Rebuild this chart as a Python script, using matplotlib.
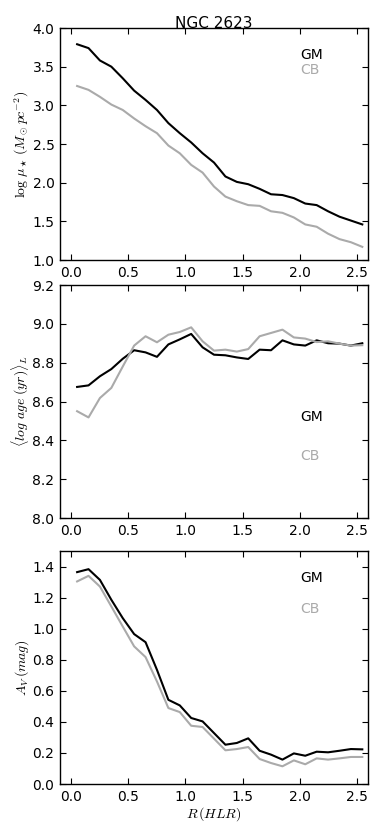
import numpy as np
import matplotlib
matplotlib.use("Agg")
import matplotlib.pyplot as plt

plt.rcParams['mathtext.fontset'] = 'cm'
plt.rcParams['font.family'] = ['DejaVu Sans']

# radial bins (HLR)
r = [0.05, 0.15, 0.25, 0.35, 0.45, 0.55, 0.65, 0.75, 0.85, 0.95, 1.05, 1.15, 1.25,
     1.35, 1.45, 1.55, 1.65, 1.75, 1.85, 1.95, 2.05, 2.15, 2.25, 2.35, 2.45, 2.55]

# log stellar mass surface density
mu_gm = [3.79, 3.74, 3.58, 3.50, 3.35, 3.19, 3.07, 2.94, 2.77, 2.64, 2.52, 2.38, 2.26,
         2.08, 2.01, 1.98, 1.92, 1.85, 1.84, 1.80, 1.73, 1.71, 1.63, 1.56, 1.51, 1.46]
mu_cb = [3.25, 3.20, 3.11, 3.01, 2.94, 2.83, 2.73, 2.64, 2.48, 2.38, 2.23, 2.13, 1.95,
         1.82, 1.76, 1.71, 1.70, 1.63, 1.61, 1.55, 1.46, 1.43, 1.34, 1.27, 1.23, 1.17]

# light weighted log age
age_gm = [8.675, 8.683, 8.73, 8.767, 8.82, 8.864, 8.853, 8.83, 8.894, 8.92, 8.948, 8.879, 8.841,
          8.838, 8.827, 8.819, 8.867, 8.864, 8.915, 8.894, 8.888, 8.915, 8.90, 8.898, 8.888, 8.90]
age_cb = [8.55, 8.518, 8.618, 8.67, 8.78, 8.888, 8.936, 8.905, 8.944, 8.958, 8.982, 8.91, 8.862,
          8.867, 8.857, 8.87, 8.936, 8.953, 8.97, 8.93, 8.924, 8.906, 8.91, 8.898, 8.888, 8.89]

# dust extinction
av_gm = [1.364, 1.383, 1.314, 1.186, 1.068, 0.965, 0.913, 0.735, 0.542, 0.506, 0.425, 0.403, 0.328,
         0.253, 0.264, 0.294, 0.214, 0.189, 0.157, 0.197, 0.182, 0.208, 0.204, 0.214, 0.225, 0.223]
av_cb = [1.304, 1.340, 1.271, 1.143, 1.014, 0.886, 0.817, 0.660, 0.489, 0.463, 0.375, 0.367, 0.292,
         0.217, 0.225, 0.238, 0.161, 0.135, 0.114, 0.152, 0.127, 0.165, 0.157, 0.165, 0.174, 0.174]

xticks = [0.0, 0.5, 1.0, 1.5, 2.0, 2.5]
GRAY = '#aaaaaa'

fig = plt.figure(figsize=(3.9, 8.24), dpi=100)
W, H = 390.0, 824.0
# axes boxes in pixels: left, top, right, bottom
boxes = [(60, 28, 368, 260), (60, 285, 368, 518), (60, 551, 368, 784)]
axes = [fig.add_axes([l / W, 1 - b / H, (rr - l) / W, (b - t) / H]) for l, t, rr, b in boxes]

panels = [
    (mu_gm, mu_cb, (1.0, 4.0), np.arange(1.0, 4.01, 0.5),
     r'$\log\,\mu_\star\,(M_\odot pc^{-2})$', (0.884, 0.819)),
    (age_gm, age_cb, (8.0, 9.2), np.arange(8.0, 9.21, 0.2),
     r'$\langle log\ age\ (yr)\rangle_L$', (0.433, 0.266)),
    (av_gm, av_cb, (0.0, 1.5), np.arange(0.0, 1.41, 0.2),
     r'$A_V\,(mag)$', (0.884, 0.751)),
]

for ax, (gm, cb, ylim, yt, ylab, (ygm, ycb)) in zip(axes, panels):
    ax.plot(r, gm, color='k', lw=1.5)
    ax.plot(r, cb, color=GRAY, lw=1.5)
    ax.set_xlim(-0.1, 2.6)
    ax.set_ylim(*ylim)
    ax.set_xticks(xticks)
    ax.set_yticks(yt)
    ax.set_xticklabels(['%.1f' % v for v in xticks])
    ax.set_yticklabels(['%.1f' % v for v in yt])
    ax.tick_params(direction='in', top=True, right=True, length=4, width=0.8,
                   labelsize=10, pad=4)
    for s in ax.spines.values():
        s.set_linewidth(1.0)
    ax.set_ylabel(ylab, fontsize=10, labelpad=1)
    ax.text(0.78, ygm, 'GM', color='k', fontsize=10, va='center', transform=ax.transAxes)
    ax.text(0.78, ycb, 'CB', color=GRAY, fontsize=10, va='center', transform=ax.transAxes)

axes[0].set_title('NGC 2623', fontsize=11, pad=0)
axes[2].set_xlabel(r'$R\,(HLR)$', fontsize=10, labelpad=1)

fig.savefig('out.png', dpi=100)
